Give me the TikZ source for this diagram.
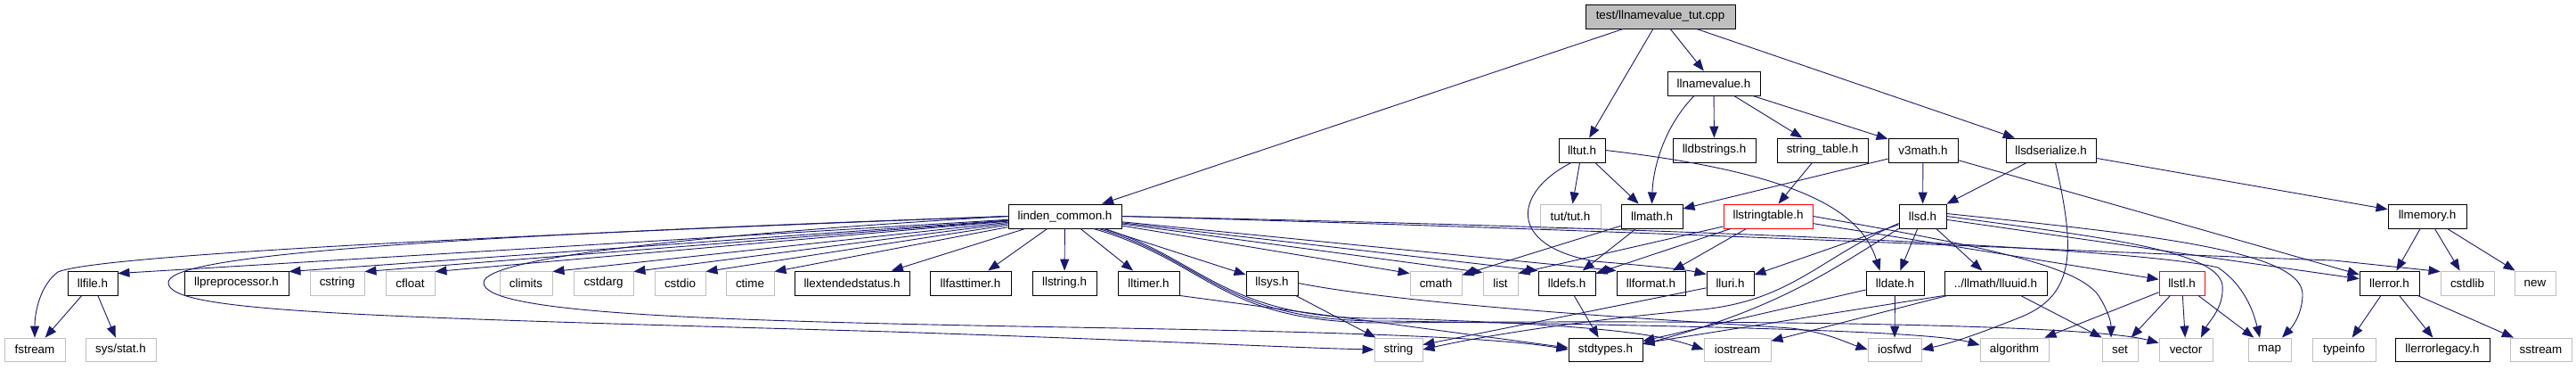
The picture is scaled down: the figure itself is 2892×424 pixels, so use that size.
\documentclass[tikz,border=0pt]{standalone}
\usepackage{fontspec}
\setmainfont{Liberation Sans}
\usetikzlibrary{arrows.meta}
\definecolor{edgec}{HTML}{191970}
\definecolor{grayb}{HTML}{BFBFBF}
\begin{document}
\begin{tikzpicture}[x=1pt,y=-1pt,
  bx/.style={rectangle, draw=black, line width=0.9pt, inner sep=0pt, minimum height=27pt, font=\fontsize{13.4}{15}\selectfont, text=black},
  gx/.style={bx, draw=grayb},
  rx/.style={bx, draw=red},
  lo/.style={minimum height=26pt},
  e/.style={draw=edgec, line width=0.9pt, -{Triangle[length=13pt,width=10pt]}},
]
\fill[white] (0,0) rectangle (2892,424);
\useasboundingbox (0,0) rectangle (2892,424);

% row 0 / 1
\node[bx, fill=grayb, minimum width=168pt] (top) at (1864,18.5) {test/llnamevalue\_tut.cpp};
\node[bx, minimum width=104pt] (nv) at (1924,93.5) {llnamevalue.h};
\node[bx, minimum width=52pt] (tut) at (1776,168.5) {lltut.h};
\node[bx, minimum width=93pt] (dbs) at (1924.5,168.5) {lldbstrings.h};
\node[bx, minimum width=102pt] (stt) at (2046,168.5) {string\_table.h};
\node[bx, minimum width=78pt] (v3) at (2159,168.5) {v3math.h};
\node[bx, minimum width=101pt] (sds) at (2302.5,168.5) {llsdserialize.h};

% row 2
\node[bx, minimum width=127pt] (lc) at (1195.5,242.5) {linden\_common.h};
\node[gx, minimum width=68pt] (tuth) at (1763,242.5) {tut/tut.h};
\node[bx, minimum width=69pt] (lmath) at (1854.5,242.5) {llmath.h};
\node[rx, minimum width=100pt] (lst) at (1985,242.5) {llstringtable.h};
\node[bx, minimum width=53pt] (lsd) at (2158.5,242.5) {llsd.h};
\node[bx, minimum width=88pt] (lmem) at (2725,242.5) {llmemory.h};

% row 3
\node[bx, minimum width=56pt] (lfile) at (104,317.5) {llfile.h};
\node[bx, minimum width=117pt] (lpre) at (265.5,317.5) {llpreprocessor.h};
\node[gx, minimum width=61pt] (cstr) at (378.5,317.5) {cstring};
\node[gx, minimum width=55pt] (cflt) at (460.5,317.5) {cfloat};
\node[gx, minimum width=59pt] (clim) at (590.5,317.5) {climits};
\node[gx, minimum width=67pt] (carg) at (677.5,317.5) {cstdarg};
\node[gx, minimum width=57pt] (cio) at (763.5,317.5) {cstdio};
\node[gx, minimum width=54pt] (ctm) at (842,317.5) {ctime};
\node[bx, minimum width=129pt] (lext) at (956.5,317.5) {llextendedstatus.h};
\node[bx, minimum width=91pt] (lfast) at (1089.5,317.5) {llfasttimer.h};
\node[bx, minimum width=72pt] (lstr) at (1195,317.5) {llstring.h};
\node[bx, minimum width=69pt] (ltim) at (1289.5,317.5) {lltimer.h};
\node[bx, minimum width=58pt] (lsys) at (1428,317.5) {llsys.h};
\node[gx, minimum width=58pt] (cmth) at (1612,317.5) {cmath};
\node[gx, minimum width=39pt] (lis) at (1684.5,317.5) {list};
\node[bx, minimum width=64pt] (ldef) at (1759,317.5) {lldefs.h};
\node[bx, minimum width=77pt] (lfmt) at (1853.5,317.5) {llformat.h};
\node[bx, minimum width=53pt] (luri) at (1942.5,317.5) {lluri.h};
\node[bx, minimum width=65pt] (ldat) at (2127.5,317.5) {lldate.h};
\node[bx, minimum width=115pt] (luid) at (2240.5,317.5) {../llmath/lluuid.h};
\node[rx, minimum width=51pt] (lstl) at (2449.5,317.5) {llstl.h};
\node[bx, minimum width=67pt] (lerr) at (2682.5,317.5) {llerror.h};
\node[gx, minimum width=60pt] (cstl) at (2770,317.5) {cstdlib};
\node[gx, minimum width=46pt] (nw) at (2846,317.5) {new};

% row 4
\node[gx, lo, minimum width=68pt] (fst) at (39,392) {fstream};
\node[gx, lo, minimum width=79pt] (sst) at (135.5,392) {sys/stat.h};
\node[gx, lo, minimum width=54pt] (strg) at (1570,392) {string};
\node[bx, lo, minimum width=83pt] (stdt) at (1802.5,392) {stdtypes.h};
\node[gx, lo, minimum width=75pt] (iost) at (1950.5,392) {iostream};
\node[gx, lo, minimum width=60pt] (iosf) at (2127,392) {iosfwd};
\node[gx, lo, minimum width=77pt] (alg) at (2261.5,392) {algorithm};
\node[gx, lo, minimum width=40pt] (sset) at (2380,392) {set};
\node[gx, lo, minimum width=60pt] (vec) at (2454,392) {vector};
\node[gx, lo, minimum width=48pt] (mmap) at (2548,392) {map};
\node[gx, lo, minimum width=71pt] (tinf) at (2631.5,392) {typeinfo};
\node[bx, lo, minimum width=106pt] (lleg) at (2742,392) {llerrorlegacy.h};
\node[gx, lo, minimum width=69pt] (sstr) at (2852.5,392) {sstream};

% top level
\draw[e] (top) -- (lc);
\draw[e] (top) -- (tut);
\draw[e] (top) -- (nv);
\draw[e] (top) -- (sds);
% llnamevalue
\draw[e] ([xshift=-22pt]nv.south) .. controls (1870,140) and (1856,185) .. (lmath.north);
\draw[e] (nv) -- (dbs);
\draw[e] (nv) -- (stt);
\draw[e] (nv) -- (v3);
% lltut
\draw[e] (tut) -- (tuth);
\draw[e] (tut) -- (lmath);
\draw[e] (tut.east) .. controls (2030,195) and (2090,240) .. ([xshift=-17pt]ldat.north);
\draw[e] ([xshift=-12pt]tut.south) .. controls (1700,215) and (1690,275) .. (1790,293) .. controls (1850,298) and (1890,302) .. ([yshift=-4pt]luri.north west);
% string_table, v3math, llsdserialize
\draw[e] (stt) -- (lst);
\draw[e] (v3) -- (lmath);
\draw[e] (v3) -- (lsd);
\draw[e] (v3) -- (lerr);
\draw[e] (sds) -- (lsd);
\draw[e] (sds) -- (lmem);
\draw[e] ([xshift=5pt]sds.south) .. controls (2330,280) and (2330,330) .. (2270,355) .. controls (2220,375) and (2190,385) .. (iosf.east);
% llmemory, llerror
\draw[e] (lmem) -- (lerr);
\draw[e] (lmem) -- (cstl);
\draw[e] (lmem) -- (nw);
\draw[e] (lerr) -- (tinf);
\draw[e] (lerr) -- (lleg);
\draw[e] (lerr) -- (sstr);
% llmath
\draw[e] (lmath) -- (cmth);
\draw[e] (lmath) -- (ldef);
% llstringtable
\draw[e] (lst) -- (lstl);
\draw[e] (lst) -- (lfmt);
\draw[e] (lst) -- (ldef);
\draw[e] (lst) -- ([yshift=-3pt]lis.north east);
\draw[e] (lst.east) .. controls (2250,280) and (2330,300) .. (2355,330) .. controls (2365,345) and (2370,360) .. ([xshift=-10pt]sset.north);
% llsd
\draw[e] (lsd) -- (ldat);
\draw[e] (lsd) -- (luid);
\draw[e] (lsd) -- (luri);
\draw[e] (lsd) -- (lerr);
\draw[e] (lsd.south west) .. controls (2060,300) and (2000,345) .. ([yshift=6pt]stdt.east);
\draw[e] ([yshift=-8pt]lsd.west) .. controls (2040,290) and (2010,340) .. (1900,348) .. controls (1750,362) and (1650,380) .. (strg.east);
\draw[e] (lsd.east) .. controls (2350,265) and (2490,280) .. (2495,320) .. controls (2497,345) and (2480,360) .. ([xshift=17pt]vec.north);
\draw[e] ([yshift=3pt]lsd.east) .. controls (2400,262) and (2585,280) .. (2585,330) .. controls (2585,350) and (2575,365) .. ([xshift=14pt]mmap.north);
% lldate, lluuid
\draw[e] (ldat) -- (iosf);
\draw[e] (ldat) -- (stdt);
\draw[e] (luid.south west) -- ([yshift=7pt]stdt.east);
\draw[e] (luid) -- (iost);
\draw[e] ([xshift=-30pt]luid.south east) -- (sset.north west);
% llstl
\draw[e] (lstl) -- (alg);
\draw[e] (lstl) -- (sset);
\draw[e] (lstl) -- (vec);
\draw[e] (lstl) -- (mmap);
% misc
\draw[e] (ltim.south east) -- ([yshift=2pt]stdt.west);
\draw[e] (lsys) -- (strg);
\draw[e] (lsys.east) .. controls (1600,345) and (1900,360) .. (2010,368) .. controls (2050,372) and (2075,385) .. (iosf.west);
\draw[e] (ldef) -- (stdt);
\draw[e] (luri) -- (strg);
\draw[e] (lfile) -- (fst);
\draw[e] (lfile) -- (sst);
% linden_common
\draw[e] (lc) -- ([yshift=-3pt]lfile.north east);
\draw[e] (lc.west) .. controls (400,270) and (100,290) .. (65,305) .. controls (45,320) and (39,350) .. (fst.north);
\draw[e] (lc) -- ([yshift=-1pt]lpre.north east);
\draw[e] (lc) -- ([yshift=-1pt]cstr.north east);
\draw[e] (lc) -- ([yshift=-1pt]cflt.north east);
\draw[e] (lc) -- ([yshift=-1pt]clim.north east);
\draw[e] (lc) -- ([yshift=-1pt]carg.north east);
\draw[e] (lc) -- ([yshift=-1pt]cio.north east);
\draw[e] (lc) -- ([yshift=-1pt]ctm.north east);
\draw[e] (lc) -- (lext);
\draw[e] (lc) -- (lfast);
\draw[e] (lc) -- (lstr);
\draw[e] (lc) -- (ltim);
\draw[e] (lc) -- (lsys);
\draw[e] (lc) -- ([yshift=-3pt]cmth.north west);
\draw[e] (lc) -- ([yshift=-2pt]lis.north west);
\draw[e] (lc) -- (ldef.north west);
\draw[e] (lc) -- (lfmt.north west);
\draw[e] (lc.east) .. controls (1900,260) and (2400,285) .. (2620,292) -- ([yshift=-1pt]cstl.north west);
\draw[e] (lc.east) .. controls (1900,256) and (2400,278) .. (2490,300) .. controls (2520,320) and (2530,350) .. ([xshift=-11pt]mmap.north);
\draw[e] (lc.west) .. controls (400,268) and (189,290) .. (189,317) .. controls (189,350) and (400,355) .. (1000,372) .. controls (1300,382) and (1450,390) .. (strg.west);
\draw[e] (lc.west) .. controls (800,262) and (543,288) .. (543,317) .. controls (543,352) and (800,360) .. (1200,367) .. controls (1500,372) and (1680,378) .. (stdt.west);
\draw[e] ([xshift=-20pt]lc.south east) .. controls (1350,290) and (1375,360) .. (1560,357) .. controls (1790,364) and (1860,374) .. (iost.west);
\draw[e] ([xshift=-26pt]lc.south east) .. controls (1355,292) and (1372,362) .. (1560,360) .. controls (1950,366) and (2170,372) .. ([yshift=5pt]alg.west);
\draw[e] ([xshift=-32pt]lc.south east) .. controls (1360,294) and (1368,364) .. (1560,362) .. controls (2000,358) and (2350,365) .. ([yshift=-6pt]vec.north west);
\end{tikzpicture}
\end{document}
